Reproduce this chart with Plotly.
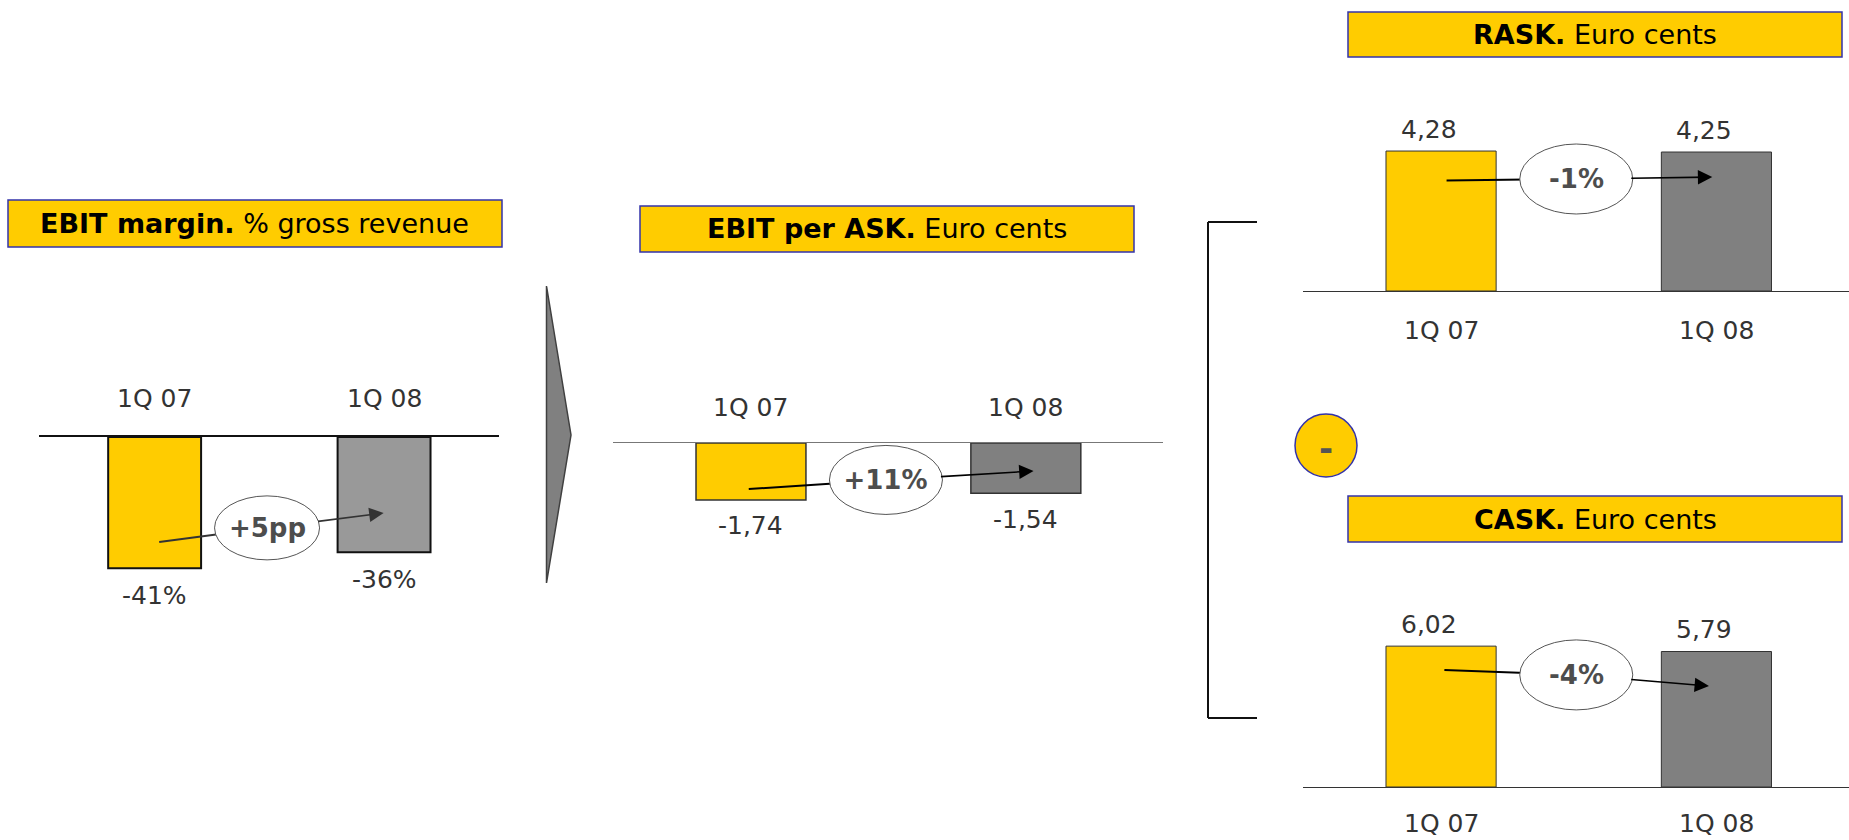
import plotly.graph_objects as go

W, H = 1849, 840
FONT = "DejaVu Sans"
TXT = "#333333"
YELLOW = "#FFCC00"
BOX_LINE = "#3333AA"
LABEL_SIZE = 25
BUBBLE_SIZE = 26
TITLE_SIZE = 27

# ---- data ----
categories = ["1Q 07", "1Q 08"]
ebit_margin = [-41, -36]          # % gross revenue
ebit_per_ask = [-1.74, -1.54]     # euro cents
rask = [4.28, 4.25]               # euro cents
cask = [6.02, 5.79]               # euro cents
change_labels = ["+5pp", "+11%", "-1%", "-4%"]
titles = [
    ("EBIT margin.", "% gross revenue"),
    ("EBIT per ASK.", "Euro cents"),
    ("RASK.", "Euro cents"),
    ("CASK.", "Euro cents"),
]


def fx(p):
    return p / W


def fy(p):
    return 1 - p / H


def pct(v):
    return f"{v:.0f}%"


def cents(v):
    return f"{v:.2f}".replace(".", ",")


fig = go.Figure()
shapes = []
annotations = []

panels = [
    dict(vals=ebit_margin, fmt=pct, colors=[YELLOW, "#999999"], bline="#111111", bw=2,
         xdom=(39, 499), xr=[-0.504, 1.501], ydom=(437, 637), yr=[-62.5, 0],
         side="top", acol="#111111", aw=2, width=0.405,
         cshift=39, vshift=-27, vx=0,
         ell=(0.49, -28.4, 105, 64), start=(0.02, 0.80), end=(0.998, 0.66), acolor="#333333"),
    dict(vals=ebit_per_ask, fmt=cents, colors=[YELLOW, "#808080"], bline="#333333", bw=1.5,
         xdom=(613, 1163), xr=[-0.502, 1.499], ydom=(443, 643), yr=[-6.116, 0],
         side="top", acol="#777777", aw=1, width=0.4,
         cshift=36, vshift=-26, vx=0,
         ell=(0.491, -1.13, 113, 69), start=(-0.008, 0.81), end=(1.028, 0.556), acolor="#000000"),
    dict(vals=rask, fmt=cents, colors=[YELLOW, "#808080"], bline="#333333", bw=1,
         xdom=(1303, 1849), xr=[-0.5014, 1.4815], ydom=(91, 291), yr=[0, 6.116],
         side="bottom", acol="#333333", aw=1, width=0.4,
         cshift=-39, vshift=22, vx=-12,
         ell=(0.491, 3.425, 113, 70), start=(0.02, 0.79), end=(0.985, 0.82), acolor="#000000"),
    dict(vals=cask, fmt=cents, colors=[YELLOW, "#808080"], bline="#333333", bw=1,
         xdom=(1303, 1849), xr=[-0.5014, 1.4815], ydom=(587, 787), yr=[0, 8.547],
         side="bottom", acol="#333333", aw=1, width=0.4,
         cshift=-36, vshift=22, vx=-12,
         ell=(0.491, 4.79, 113, 70), start=(0.012, 0.83), end=(0.973, 0.745), acolor="#000000"),
]

layout_axes = {}
for i, p in enumerate(panels):
    n = "" if i == 0 else str(i + 1)
    xa, ya = "x" + n, "y" + n
    fig.add_trace(go.Bar(
        x=categories, y=p["vals"], width=p["width"],
        marker=dict(color=p["colors"], line=dict(color=p["bline"], width=p["bw"])),
        xaxis=xa, yaxis=ya, showlegend=False, hoverinfo="skip",
    ))
    layout_axes["xaxis" + n] = dict(
        domain=[fx(p["xdom"][0]), fx(p["xdom"][1])], range=p["xr"], type="category",
        anchor=ya, side=p["side"], showline=True, linecolor=p["acol"], linewidth=p["aw"],
        showgrid=False, zeroline=False, showticklabels=False, ticks="", fixedrange=True,
    )
    layout_axes["yaxis" + n] = dict(
        domain=[fy(p["ydom"][1]), fy(p["ydom"][0])], range=p["yr"], anchor=xa,
        showline=False, showgrid=False, zeroline=False, showticklabels=False, ticks="",
        fixedrange=True,
    )

    # category labels along the baseline
    for c in categories:
        annotations.append(dict(
            x=c, y=0, xref=xa, yref=ya, text=c, showarrow=False, yshift=p["cshift"],
            xanchor="center", yanchor="middle",
            font=dict(family=FONT, size=LABEL_SIZE, color=TXT),
        ))
    # value labels at bar ends
    for c, v in zip(categories, p["vals"]):
        annotations.append(dict(
            x=c, y=v, xref=xa, yref=ya, text=p["fmt"](v), showarrow=False,
            yshift=p["vshift"], xshift=p["vx"], xanchor="center", yanchor="middle",
            font=dict(family=FONT, size=LABEL_SIZE, color=TXT),
        ))

    # change bubble with connecting arrow
    cx, cy, ew, eh = p["ell"]
    sx, sy = p["start"][0], p["start"][1] * p["vals"][0]
    ex, ey = p["end"][0], p["end"][1] * p["vals"][1]
    shapes.append(dict(type="line", xref=xa, yref=ya, x0=sx, y0=sy, x1=cx, y1=cy,
                       line=dict(color=p["acolor"], width=2), layer="above"))
    shapes.append(dict(type="circle", xref=xa, yref=ya,
                       xsizemode="pixel", xanchor=cx, x0=-ew / 2, x1=ew / 2,
                       ysizemode="pixel", yanchor=cy, y0=-eh / 2, y1=eh / 2,
                       fillcolor="white", line=dict(color="#555555", width=1), layer="above"))
    annotations.append(dict(
        x=ex, y=ey, xref=xa, yref=ya, ax=cx, ay=cy, axref=xa, ayref=ya,
        text="<b>" + change_labels[i] + "</b>", showarrow=True,
        arrowhead=2, arrowsize=1.8, arrowwidth=1.6, arrowcolor=p["acolor"],
        width=ew - 4, height=eh - 6, borderpad=0,
        font=dict(family=FONT, size=BUBBLE_SIZE, color="#4D4D4D"),
    ))

# title boxes (left, top, right, bottom in px)
title_boxes = [(8, 200, 502, 247), (640, 206, 1134, 252), (1348, 12, 1842, 57), (1348, 496, 1842, 542)]
for (bold, rest), (l, t, r, b) in zip(titles, title_boxes):
    shapes.append(dict(type="rect", xref="paper", yref="paper",
                       x0=fx(l), x1=fx(r), y0=fy(b), y1=fy(t),
                       fillcolor=YELLOW, line=dict(color=BOX_LINE, width=1.5)))
    annotations.append(dict(
        x=fx((l + r) / 2), y=fy((t + b) / 2), xref="paper", yref="paper",
        text=f"<b>{bold}</b> {rest}", showarrow=False, xanchor="center", yanchor="middle",
        font=dict(family=FONT, size=TITLE_SIZE, color="#000000"),
    ))

# chevron between the first two panels
shapes.append(dict(type="path", xref="paper", yref="paper",
                   path=f"M {fx(546.5)},{fy(286)} L {fx(571)},{fy(435)} L {fx(546.5)},{fy(583)} Z",
                   fillcolor="#808080", line=dict(color="#404040", width=1.5)))

# bracket grouping RASK and CASK
for (x0, y0, x1, y1) in [(1208, 222, 1208, 718), (1208, 222, 1257, 222), (1208, 718, 1257, 718)]:
    shapes.append(dict(type="line", xref="paper", yref="paper",
                       x0=fx(x0), y0=fy(y0), x1=fx(x1), y1=fy(y1),
                       line=dict(color="#111111", width=2)))

# minus sign badge
shapes.append(dict(type="circle", xref="paper", yref="paper",
                   x0=fx(1295), x1=fx(1357), y0=fy(477), y1=fy(414),
                   fillcolor=YELLOW, line=dict(color=BOX_LINE, width=1.5)))
annotations.append(dict(x=fx(1326), y=fy(448), xref="paper", yref="paper", text="<b>-</b>",
                        showarrow=False, xanchor="center", yanchor="middle",
                        font=dict(family=FONT, size=34, color="#555555")))

fig.update_layout(
    width=W, height=H, margin=dict(l=0, r=0, t=0, b=0),
    paper_bgcolor="white", plot_bgcolor="rgba(0,0,0,0)",
    shapes=shapes, annotations=annotations, showlegend=False,
    **layout_axes,
)

fig.write_html("out.html")
